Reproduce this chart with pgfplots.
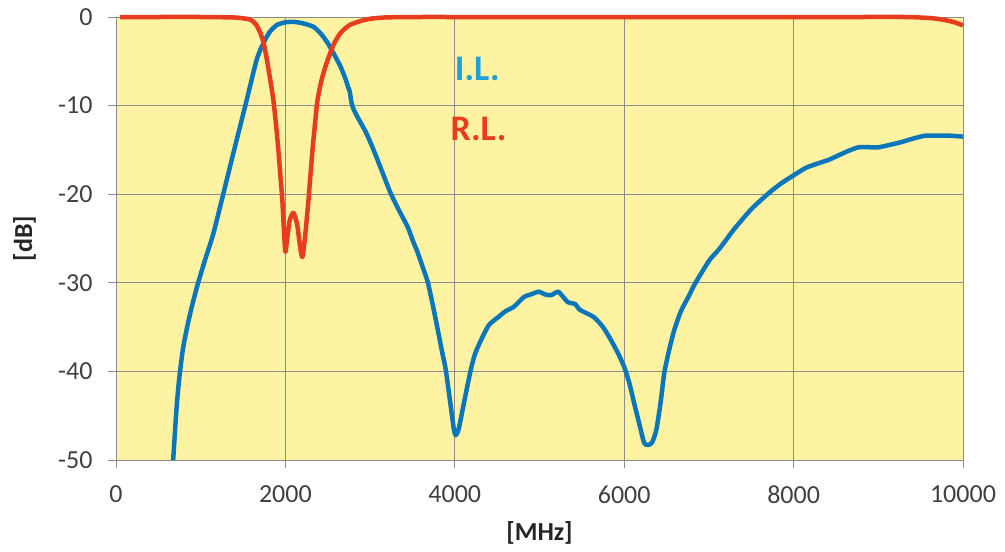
\documentclass[border=0pt]{standalone}
\usepackage{pgfplots}
\pgfplotsset{compat=1.18}
\usepackage{fontspec}
\setmainfont{Carlito}
\definecolor{bgyellow}{RGB}{253,243,162}
\definecolor{ilblue}{RGB}{12,118,186}
\definecolor{rlred}{RGB}{232,60,30}
\definecolor{iltext}{RGB}{30,160,220}
\definecolor{gridgray}{RGB}{140,140,140}
\definecolor{ticktext}{RGB}{64,64,64}
\begin{document}
\begin{tikzpicture}
\begin{axis}[
    scale only axis,
    width=847bp, height=443bp,
    xmin=0, xmax=10000, ymin=-50, ymax=0,
    xtick={0,2000,...,10000},
    ytick={-50,-40,...,0},
    scaled x ticks=false,
    /pgf/number format/assume math mode=true,
    /pgf/number format/set thousands separator={},
    ticklabel style={font=\fontsize{26bp}{30bp}\selectfont, text=ticktext},
    xticklabel style={yshift=-14bp},
    yticklabel style={xshift=-12bp},
    tick align=outside,
    major tick length=8bp,
    tick style={gridgray, line width=0.8bp},
    xtick pos=bottom, ytick pos=left,
    grid=major,
    grid style={gridgray, line width=0.9bp},
    axis line style={gridgray, line width=0.9bp},
    axis background/.style={fill=bgyellow},
    xlabel={\textbf{[MHz]}},
    ylabel={\textbf{[dB]}},
    label style={font=\fontsize{26bp}{30bp}\selectfont, text=black!85},
    xlabel style={at={(axis description cs:0.5,-0.165)}, anchor=center},
    ylabel style={at={(axis description cs:-0.108,0.5)}, anchor=center},
    clip=false,
]
% I.L.
\addplot[ilblue, line width=4.5bp, line join=round, smooth, tension=0.4] coordinates {
(675,-50) (695,-47) (720,-43.5) (750,-40.5) (790,-37.5) (840,-35)
(900,-32.5) (970,-30) (1055,-27.3) (1148,-24.5) (1266,-20) (1395,-15)
(1527,-10) (1650,-5.2) (1704,-3.7) (1770,-2.4) (1822,-1.6) (1900,-0.9)
(2000,-0.6) (2100,-0.55) (2200,-0.7) (2331,-1.1) (2420,-1.9) (2497,-2.9)
(2580,-4.3) (2651,-5.6) (2710,-7.0) (2740,-7.9) (2760,-8.4) (2775,-9.4)
(2800,-10.3) (2852,-11.3) (2950,-13.0) (3041,-15) (3140,-17.4)
(3243,-19.9) (3340,-21.8) (3444,-23.7) (3503,-25.2) (3562,-26.6)
(3620,-28.2) (3680,-29.9) (3740,-32.5) (3799,-35.3) (3850,-37.8)
(3893,-39.8) (3953,-44) (3990,-46.6) (4012,-47.2) (4040,-46.7)
(4070,-45.4) (4107,-43.6) (4189,-39.8) (4240,-38.0) (4308,-36.5)
(4400,-34.8) (4509,-33.9) (4600,-33.2) (4698,-32.7) (4817,-31.6)
(4900,-31.3) (4994,-31.0) (5060,-31.3) (5136,-31.4) (5219,-31.0)
(5280,-31.6) (5337,-32.2) (5420,-32.4) (5470,-33.0) (5527,-33.3)
(5645,-33.9) (5750,-35.0) (5846,-36.5) (5930,-38.0) (6000,-39.5)
(6060,-41.3) (6118,-43.6) (6180,-46.0) (6237,-48.1) (6284,-48.3)
(6330,-48.0) (6379,-46.6) (6430,-43.5) (6473,-40.2) (6530,-37.6)
(6592,-35.3) (6670,-33.2) (6757,-31.6) (6830,-30.2) (6911,-28.9)
(7010,-27.4) (7112,-26.3) (7200,-25.2) (7302,-23.9) (7500,-21.7)
(7704,-19.9) (7850,-18.8) (8012,-17.8) (8150,-17.0) (8296,-16.5)
(8420,-16.1) (8533,-15.6) (8650,-15.1) (8769,-14.7) (8900,-14.7)
(9006,-14.7) (9150,-14.4) (9278,-14.1) (9420,-13.7) (9550,-13.4)
(9700,-13.4) (9850,-13.4) (10000,-13.5)
};
% R.L.
\addplot[rlred, line width=4.5bp, line join=round, smooth, tension=0.4] coordinates {
(50,0) (500,0) (1000,0) (1385,-0.05) (1500,-0.15) (1586,-0.3)
(1650,-0.8) (1704,-1.8) (1745,-3.0) (1783,-4.9) (1820,-7.0) (1858,-9.4)
(1890,-12.2) (1917,-15) (1940,-17.8) (1964,-20.7) (1985,-24.5)
(2000,-26.5) (2015,-25.5) (2050,-23.0) (2095,-22.1) (2140,-23.5)
(2175,-26.0) (2201,-27.1) (2230,-25.0) (2250,-23.0) (2272,-20.7)
(2296,-17.8) (2320,-15) (2348,-12.2) (2379,-9.4) (2430,-7.0)
(2497,-4.9) (2570,-3.1) (2651,-1.8) (2760,-0.9) (2888,-0.45)
(3000,-0.2) (3160,-0.06) (3350,-0.01) (3600,0) (4000,0) (5000,0)
(6000,0) (7000,0) (8000,0) (8800,0) (9300,0) (9479,-0.05) (9650,-0.15)
(9787,-0.35) (9900,-0.6) (10000,-0.95)
};
\node[anchor=west, text=iltext, font=\fontsize{36bp}{40bp}\selectfont\bfseries]
  at (axis cs:3960,-5.9) {I.L.};
\node[anchor=west, text=rlred, font=\fontsize{36bp}{40bp}\selectfont\bfseries]
  at (axis cs:3910,-12.6) {R.L.};
\end{axis}
\path (current axis.south west) ++(-116bp,-92bp) rectangle ++(1005bp,552bp);
\end{tikzpicture}
\end{document}
